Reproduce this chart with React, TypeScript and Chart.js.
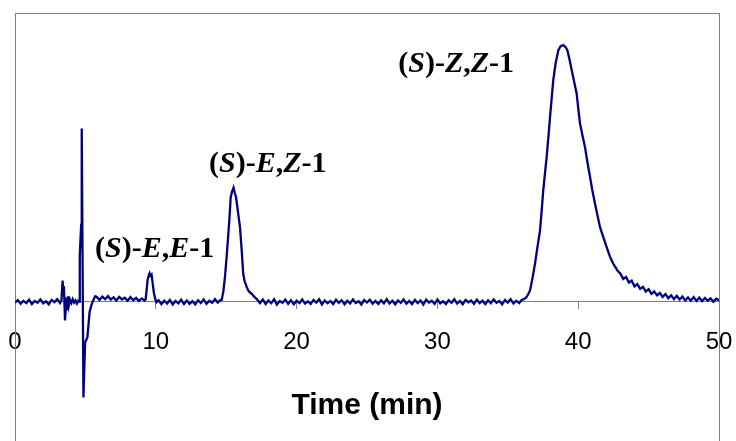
import React, { useEffect, useRef } from "react";
import { Chart, registerables } from "chart.js";

Chart.register(...registerables);

// ---- Data (time in min, detector signal in arbitrary units) ----
const X_TICKS = [0, 10, 20, 30, 40, 50];
const X_TITLE = "Time (min)";

const baselineStart: [number, number][] = [
  [0, -0.4], [0.2, 0.5], [0.4, -0.9], [0.6, 0.3], [0.8, -0.6], [1.0, 0.7], [1.2, -1.0], [1.4, 0.2],
  [1.6, -0.5], [1.8, 0.8], [2.0, -0.7], [2.2, 0.1], [2.4, -1.1], [2.6, 0.6], [2.8, -0.3], [3.0, 0.9],
  [3.2, -0.6],
];

const injectionDisturbance: [number, number][] = [
  [3.3, 0.4], [3.38, 8.2], [3.43, 3.0], [3.47, 6.0], [3.52, -2.0], [3.55, -7.4], [3.6, -3.5],
  [3.65, 1.5], [3.7, -3.0], [3.76, 2.0], [3.82, -1.5], [3.9, 0.8], [4.0, -0.6], [4.1, 0.9],
  [4.2, -0.5], [4.3, 0.4], [4.4, -0.8], [4.5, 0.3],
  [4.57, 0.0], [4.6, 18.0], [4.7, 30.0], [4.74, 67.5], [4.78, 33.0], [4.86, -37.4],
  [4.98, -16.0], [5.14, -14.0], [5.3, -4.0], [5.45, -1.0], [5.68, 2.0],
];

const baselineMid1: [number, number][] = [
  [5.8, 1.8], [6.0, 0.6], [6.2, 1.9], [6.4, 0.9], [6.6, 2.1], [6.8, 0.7], [7.0, 1.6], [7.2, 0.4],
  [7.4, 1.8], [7.6, 0.8], [7.8, 1.5], [8.0, 0.3], [8.2, 1.7], [8.4, 0.5], [8.6, 1.4], [8.8, 0.2],
  [9.0, 1.2], [9.2, 0.4],
];

const peakEE: [number, number][] = [
  [9.28, 0.8], [9.35, 4.5], [9.42, 8.5], [9.5, 10.2], [9.56, 11.0], [9.62, 10.0], [9.7, 10.5],
  [9.78, 7.0], [9.86, 3.5], [9.95, 1.2], [10.05, -0.3],
];

const baselineMid2: [number, number][] = [
  [10.2, 0.5], [10.4, -1.0], [10.6, 0.3], [10.8, -0.8], [11.0, 0.6], [11.2, -1.2], [11.4, 0.2],
  [11.6, -0.7], [11.8, 0.7], [12.0, -1.0], [12.2, 0.4], [12.4, -0.9], [12.6, 0.1], [12.8, -1.1],
  [13.0, 0.5], [13.2, -0.6], [13.4, 0.8], [13.6, -0.9], [13.8, 0.3], [14.0, -0.5], [14.2, 0.9],
  [14.4, -0.4], [14.6, 0.6],
];

const peakEZ: [number, number][] = [
  [14.68, 0.6], [14.8, 4.0], [14.91, 9.5], [15.03, 17.3], [15.12, 24.0], [15.22, 31.6],
  [15.32, 40.7], [15.42, 43.0], [15.52, 44.4], [15.6, 42.5], [15.7, 40.7], [15.86, 34.0],
  [15.98, 29.0], [16.1, 20.0], [16.21, 10.8], [16.3, 8.0], [16.46, 5.6], [16.6, 4.0],
  [16.81, 3.0], [17.0, 1.8], [17.17, 1.0],
];

const baselineLong: [number, number][] = [
  [17.4, -0.6], [17.6, 0.8], [17.8, -1.0], [18.0, 0.4], [18.2, -0.7], [18.4, 0.9], [18.6, -1.2],
  [18.8, 0.2], [19.0, -0.5], [19.2, 0.7], [19.4, -0.9], [19.6, 0.5], [19.8, -1.1], [20.0, 0.3],
  [20.2, -0.6], [20.4, 0.8], [20.6, -0.8], [20.8, 0.1], [21.0, -1.0], [21.2, 0.6], [21.4, -0.4],
  [21.6, 0.9], [21.8, -1.2], [22.0, 0.4], [22.2, -0.7], [22.4, 0.2], [22.6, -1.0], [22.8, 0.7],
  [23.0, -0.5], [23.2, 0.5], [23.4, -1.1], [23.6, 0.3], [23.8, -0.8], [24.0, 0.8], [24.2, -0.6],
  [24.4, 0.1], [24.6, -1.2], [24.8, 0.6], [25.0, -0.4], [25.2, 0.7], [25.4, -0.9], [25.6, 0.2],
  [25.8, -1.0], [26.0, 0.5], [26.2, -0.7], [26.4, 0.9], [26.6, -0.8], [26.8, 0.3], [27.0, -1.1],
  [27.2, 0.4], [27.4, -0.5], [27.6, 0.8], [27.8, -0.9], [28.0, 0.2], [28.2, -1.0], [28.4, 0.6],
  [28.6, -0.6], [28.8, 0.4], [29.0, -1.2], [29.2, 0.7], [29.4, -0.4], [29.6, 0.3], [29.8, -0.9],
  [30.0, 0.8], [30.2, -0.7], [30.4, 0.1], [30.6, -1.0], [30.8, 0.5], [31.0, -0.5], [31.2, 0.9],
  [31.4, -0.8], [31.6, 0.2], [31.8, -1.1], [32.0, 0.6], [32.2, -0.3], [32.4, 0.4], [32.6, -0.9],
  [32.8, 0.7], [33.0, -0.6], [33.2, 0.3], [33.4, -1.0], [33.6, 0.5], [33.8, -0.7], [34.0, 0.8],
  [34.2, -0.5], [34.4, 0.2], [34.6, -1.1], [34.8, 0.6], [35.0, -0.4], [35.2, 0.9], [35.4, -0.8],
  [35.6, 0.3], [35.8, -0.6], [36.0, 0.7],
];

const peakZZ: [number, number][] = [
  [36.1, 0.8], [36.3, 1.5], [36.45, 2.8], [36.58, 4.3], [36.75, 9.0], [36.93, 14.7], [37.1, 21.0],
  [37.29, 27.7], [37.4, 35.0], [37.52, 43.4], [37.64, 50.0], [37.76, 56.4], [37.88, 64.0],
  [38.0, 72.0], [38.12, 79.5], [38.23, 86.3], [38.4, 93.0], [38.59, 98.0], [38.75, 99.6],
  [38.94, 100.0], [39.1, 99.2], [39.23, 98.0], [39.38, 94.5], [39.54, 90.2], [39.7, 86.0],
  [39.89, 81.1], [40.0, 75.5], [40.13, 69.4], [40.3, 64.8], [40.48, 60.3], [40.65, 54.5],
  [40.84, 48.6], [41.0, 43.5], [41.19, 38.2], [41.37, 33.5], [41.55, 29.0], [41.8, 24.8],
  [42.02, 21.2], [42.25, 17.6], [42.49, 14.7], [42.8, 12.0],
];

const tailZZ: [number, number][] = [
  [43.0, 10.8], [43.2, 8.8], [43.4, 9.6], [43.6, 7.4], [43.8, 8.1], [44.0, 5.9], [44.2, 6.8],
  [44.4, 4.9], [44.6, 5.7], [44.8, 3.9], [45.0, 4.8], [45.2, 3.0], [45.4, 3.9], [45.6, 2.4],
  [45.8, 3.3], [46.0, 1.8], [46.2, 2.9], [46.4, 1.3], [46.6, 2.4], [46.8, 0.9], [47.0, 2.2],
  [47.2, 0.8], [47.4, 1.9], [47.6, 0.4], [47.8, 1.6], [48.0, 0.3], [48.2, 1.7], [48.4, 0.2],
  [48.6, 1.5], [48.8, 0.1], [49.0, 1.4], [49.2, 0.3], [49.4, 1.2], [49.6, -0.1], [49.8, 1.1],
  [50.0, 0.4],
];

// Peak labels: [text, italic] runs anchored at (time, signal)
type Run = [string, boolean];
const LABEL_EE: Run[] = [["(", false], ["S", true], [")-", false], ["E", true], [",", false], ["E", true], ["-1", false]];
const LABEL_EZ: Run[] = [["(", false], ["S", true], [")-", false], ["E", true], [",", false], ["Z", true], ["-1", false]];
const LABEL_ZZ: Run[] = [["(", false], ["S", true], [")-", false], ["Z", true], [",", false], ["Z", true], ["-1", false]];
const LABEL_ANCHORS: { t: number; v: number; runs: Run[] }[] = [
  { t: 5.68, v: 17.5, runs: LABEL_EE },
  { t: 13.78, v: 50.6, runs: LABEL_EZ },
  { t: 27.22, v: 89.5, runs: LABEL_ZZ },
];

const LINE_COLOR = "#000080";
const FRAME_COLOR = "#808080";
const LABEL_FONT_SIZE = 30;

const framePlugin = {
  id: "frame",
  beforeDatasetsDraw(chart: any) {
    const { ctx, chartArea: a } = chart;
    ctx.save();
    ctx.strokeStyle = FRAME_COLOR;
    ctx.lineWidth = 1;
    ctx.strokeRect(Math.round(a.left) + 0.5, Math.round(a.top) + 0.5, Math.round(a.right - a.left), Math.round(a.bottom - a.top));
    ctx.restore();
  },
};

const labelPlugin = {
  id: "peakLabels",
  afterDatasetsDraw(chart: any) {
    const { ctx, scales } = chart;
    ctx.save();
    ctx.fillStyle = "#000";
    ctx.textBaseline = "alphabetic";
    ctx.textAlign = "left";
    for (const lab of LABEL_ANCHORS) {
      let x = scales.x.getPixelForValue(lab.t);
      const y = scales.y.getPixelForValue(lab.v);
      for (const [txt, it] of lab.runs) {
        ctx.font = `${it ? "italic " : ""}bold ${LABEL_FONT_SIZE}px "Liberation Serif", "Times New Roman", serif`;
        ctx.fillText(txt, x, y);
        x += ctx.measureText(txt).width;
      }
    }
    ctx.restore();
  },
};

export default function App() {
  const ref = useRef<HTMLCanvasElement>(null);
  useEffect(() => {
    const points = [
      ...baselineStart, ...injectionDisturbance, ...baselineMid1, ...peakEE, ...baselineMid2,
      ...peakEZ, ...baselineLong, ...peakZZ, ...tailZZ,
    ].map(([x, y]) => ({ x, y }));
    const chart = new Chart(ref.current as HTMLCanvasElement, {
      type: "line",
      data: {
        datasets: [
          {
            data: points,
            borderColor: LINE_COLOR,
            borderWidth: 2.3,
            pointRadius: 0,
            tension: 0,
            fill: false,
          },
        ],
      },
      options: {
        animation: false,
        responsive: false,
        devicePixelRatio: 1,
        layout: { padding: { top: 13, left: 15, right: 17, bottom: 9 } },
        plugins: { legend: { display: false }, tooltip: { enabled: false } },
        scales: {
          x: {
            type: "linear",
            min: 0,
            max: 50,
            position: { y: 0 } as any,
            afterBuildTicks: (s: any) => {
              s.ticks = X_TICKS.map((v) => ({ value: v }));
            },
            afterFit: (s: any) => {
              s.paddingLeft = 0;
              s.paddingRight = 0;
            },
            ticks: {
              color: "#000",
              font: { family: '"Liberation Sans", Arial, sans-serif', size: 24 },
              padding: 19,
              maxRotation: 0,
              autoSkip: false,
            },
            grid: {
              display: true,
              drawOnChartArea: false,
              drawTicks: true,
              tickLength: 7,
              color: FRAME_COLOR,
              lineWidth: 1,
            },
            border: { display: true, color: FRAME_COLOR, width: 1 },
            title: {
              display: true,
              text: X_TITLE,
              color: "#000",
              font: { family: '"Liberation Sans", Arial, sans-serif', size: 30, weight: "bold" },
              padding: { top: 12, bottom: 0 },
            },
          },
          y: {
            type: "linear",
            min: -70,
            max: 112.5,
            display: false,
          },
        },
      },
      plugins: [framePlugin, labelPlugin],
    });
    return () => chart.destroy();
  }, []);

  return (
    <div style={{ position: "fixed", left: 0, top: 0, width: 736, height: 490, background: "#fff" }}>
      <canvas ref={ref} width={736} height={490} style={{ display: "block" }} />
    </div>
  );
}
